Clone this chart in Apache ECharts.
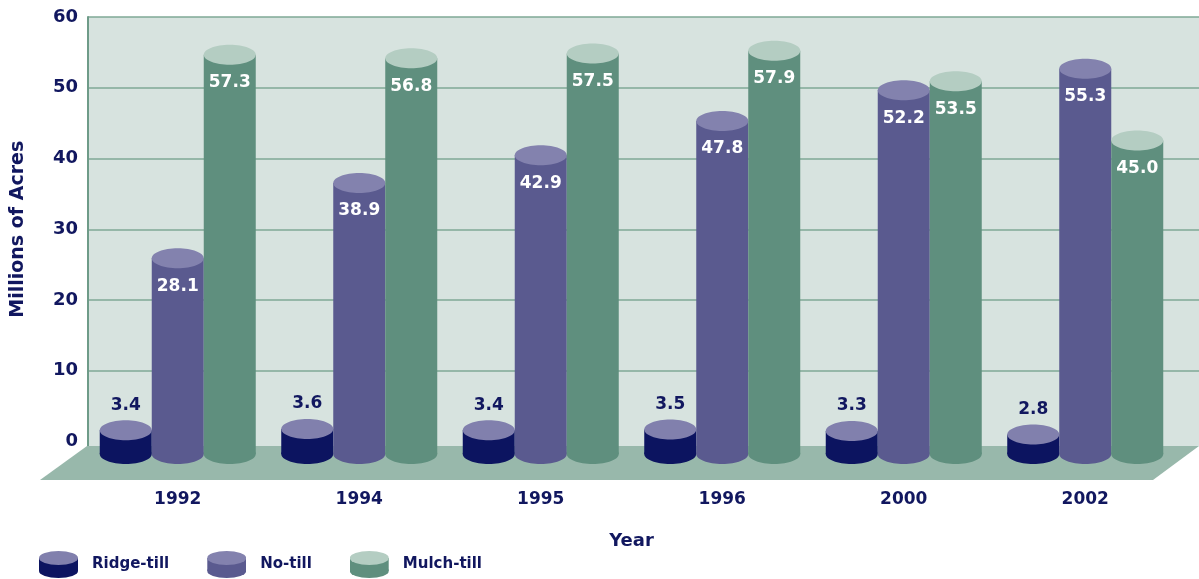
<!DOCTYPE html>
<html>
<head>
<meta charset="utf-8">
<title>Tillage acres</title>
<script src="https://cdn.jsdelivr.net/npm/echarts@6/dist/echarts.min.js"></script>
<style>
  html, body { margin: 0; padding: 0; background: #fff; }
  #main { width: 1199px; height: 579px; }
</style>
</head>
<body>
<div id="main"></div>
<script>
// data
var years = ['1992', '1994', '1995', '1996', '2000', '2002'];
var ridgeTill = [3.4, 3.6, 3.4, 3.5, 3.3, 2.8];
var noTill = [28.1, 38.9, 42.9, 47.8, 52.2, 55.3];
var mulchTill = [57.3, 56.8, 57.5, 57.9, 53.5, 45.0];
var yTicks = [0, 10, 20, 30, 40, 50, 60];

var navy = '#11175f';
var font = '"DejaVu Sans", sans-serif';

// colours: [side, top]
var cols = {
    'Ridge-till': ['#0c1460', '#8180ad'],
    'No-till': ['#5a5a8f', '#8382ae'],
    'Mulch-till': ['#5f8f7e', '#b4cdc2']
};

function toPairs(arr) {
    var out = [];
    for (var i = 0; i < arr.length; i++) {
        out.push([i, arr[i]]);
    }
    return out;
}

// small cylinder for the legend
function cylIcon(side, top) {
    var svg = '<svg xmlns="http://www.w3.org/2000/svg" width="39" height="27">' +
        '<ellipse cx="19.5" cy="20" rx="19.5" ry="7" fill="' + side + '"/>' +
        '<rect x="0" y="7" width="39" height="13" fill="' + side + '"/>' +
        '<ellipse cx="19.5" cy="7" rx="19.5" ry="7" fill="' + top + '"/>' +
        '</svg>';
    return 'image://data:image/svg+xml;charset=utf-8,' + encodeURIComponent(svg);
}

// k = slot in the group (0,1,2)
function cylinder(k, name, labelInside) {
    var side = cols[name][0], top = cols[name][1];
    return function (params, api) {
        var i = api.value(0), v = api.value(1);
        var p = api.coord([i, v]);
        var b = api.coord([i, 0]);
        var w = 52, rx = 26, ry = 10;
        var cx = p[0] + (k - 1) * w;
        var ly = labelInside ? p[1] + 28 : p[1] - 25;
        return {
            type: 'group',
            children: [
                { type: 'ellipse', shape: { cx: cx, cy: b[1], rx: rx, ry: ry }, style: { fill: side } },
                { type: 'rect', shape: { x: cx - rx, y: p[1], width: w, height: b[1] - p[1] }, style: { fill: side } },
                { type: 'ellipse', shape: { cx: cx, cy: p[1], rx: rx, ry: ry }, style: { fill: top } },
                {
                    type: 'text',
                    style: {
                        text: v.toFixed(1), x: cx, y: ly,
                        align: 'center', verticalAlign: 'middle',
                        fill: labelInside ? '#ffffff' : navy,
                        fontSize: 17, fontWeight: 'bold', fontFamily: font
                    }
                }
            ]
        };
    };
}

var myChart = echarts.init(document.getElementById('main'));

var option = {
    backgroundColor: '#ffffff',
    animation: false,
    textStyle: { fontFamily: font },
    graphic: [
        // back wall
        { type: 'rect', z: -10, shape: { x: 88, y: 17, width: 1111, height: 429 }, style: { fill: '#d7e3df' } },
        // hide the 0 line behind the floor edge
        { type: 'rect', z: 1, shape: { x: 89, y: 439, width: 1110, height: 7 }, style: { fill: '#d7e3df' } },
        { type: 'line', z: 1, shape: { x1: 88, y1: 440, x2: 88, y2: 446 }, style: { stroke: '#6e9b88', lineWidth: 2 } },
        // floor
        {
            type: 'polygon', z: 1,
            shape: { points: [[87, 446], [1199, 446], [1153, 480], [40, 480]] },
            style: { fill: '#98b8ab' }
        }
    ],
    legend: {
        left: 39,
        top: 551,
        padding: 0,
        itemWidth: 39,
        itemHeight: 27,
        itemGap: 38,
        textStyle: { color: navy, fontSize: 15, fontWeight: 'bold', fontFamily: font, padding: [0, 0, 0, 9] },
        data: [
            { name: 'Ridge-till', icon: cylIcon(cols['Ridge-till'][0], cols['Ridge-till'][1]) },
            { name: 'No-till', icon: cylIcon(cols['No-till'][0], cols['No-till'][1]) },
            { name: 'Mulch-till', icon: cylIcon(cols['Mulch-till'][0], cols['Mulch-till'][1]) }
        ]
    },
    grid: [
        // the wall with the value scale
        { left: 88, right: 0, top: 17, bottom: 137.5, outerBoundsMode: 'none' },
        // the cylinders stand a bit forward on the floor
        { left: 87, width: 1089, top: 36, bottom: 125, outerBoundsMode: 'none' }
    ],
    xAxis: [
        { type: 'category', gridIndex: 0, data: years, show: false },
        {
            type: 'category', gridIndex: 1, data: years,
            axisLine: { show: false }, axisTick: { show: false },
            axisLabel: { color: navy, fontSize: 17, fontWeight: 'bold', margin: 37 },
            name: 'Year', nameLocation: 'middle', nameGap: 78,
            nameTextStyle: { color: navy, fontSize: 18, fontWeight: 'bold' }
        }
    ],
    yAxis: [
        {
            type: 'value', gridIndex: 0, min: yTicks[0], max: yTicks[yTicks.length - 1], interval: 10,
            axisLine: { show: true, lineStyle: { color: '#6e9b88', width: 2 } },
            axisTick: { show: false },
            axisLabel: { color: navy, fontSize: 18, fontWeight: 'bold', margin: 10 },
            splitLine: { lineStyle: { color: '#7fa996', width: 1.5 } },
            name: 'Millions of Acres', nameLocation: 'middle', nameGap: 60,
            nameTextStyle: { color: navy, fontSize: 19, fontWeight: 'bold' }
        },
        { type: 'value', gridIndex: 1, min: 0, max: 60, show: false }
    ],
    series: [
        {
            name: 'Ridge-till', type: 'custom', xAxisIndex: 1, yAxisIndex: 1, z: 3,
            itemStyle: { color: cols['Ridge-till'][0] },
            renderItem: cylinder(0, 'Ridge-till', false),
            encode: { x: 0, y: 1 },
            data: toPairs(ridgeTill)
        },
        {
            name: 'No-till', type: 'custom', xAxisIndex: 1, yAxisIndex: 1, z: 3,
            itemStyle: { color: cols['No-till'][0] },
            renderItem: cylinder(1, 'No-till', true),
            encode: { x: 0, y: 1 },
            data: toPairs(noTill)
        },
        {
            name: 'Mulch-till', type: 'custom', xAxisIndex: 1, yAxisIndex: 1, z: 3,
            itemStyle: { color: cols['Mulch-till'][0] },
            renderItem: cylinder(2, 'Mulch-till', true),
            encode: { x: 0, y: 1 },
            data: toPairs(mulchTill)
        }
    ]
};

myChart.setOption(option);
</script>
</body>
</html>
